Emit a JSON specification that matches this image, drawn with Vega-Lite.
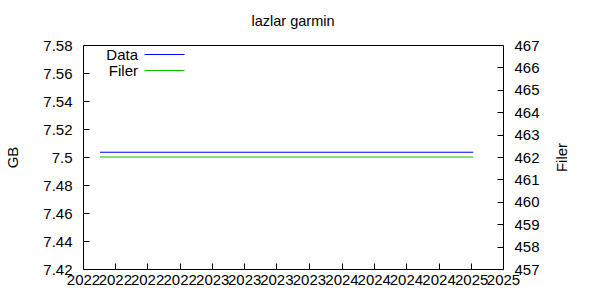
{
  "$schema": "https://vega.github.io/schema/vega-lite/v6.json",
  "width": 420,
  "height": 224,
  "autosize": {"type": "none"},
  "padding": {"left": 83, "top": 45, "right": 97, "bottom": 31},
  "title": {"text": "lazlar garmin", "fontSize": 14.5, "font": "Liberation Sans", "fontWeight": "normal", "color": "black", "offset": 9, "anchor": "middle"},
  "config": {
    "font": "Liberation Sans",
    "view": {"stroke": "black", "strokeWidth": 1, "fill": null},
    "axis": {"grid": false, "domain": false, "zindex": 1, "ticks": true, "tickColor": "#000000", "tickWidth": 1, "tickSize": -6, "labelFont": "Liberation Sans", "labelFontSize": 15, "labelColor": "black", "titleFont": "Liberation Sans", "titleFontSize": 15, "titleFontWeight": "normal", "titleColor": "black"}
  },
  "data": {"values": [
    {"date": "2022-02-18", "value": 7.5034, "series": "Data"},
    {"date": "2025-01-07", "value": 7.5034, "series": "Data"},
    {"date": "2022-02-18", "value": 462, "series": "Filer"},
    {"date": "2025-01-07", "value": 462, "series": "Filer"}
  ]},
  "encoding": {
    "x": {"field": "date", "type": "temporal", "title": null,
      "scale": {"domain": ["2022-01-01", "2025-04-01"], "nice": false},
      "axis": {"format": "%Y", "tickCount": {"interval": "month", "step": 3}, "labelPadding": 9, "labelFlush": false, "labelOverlap": false}
    },
    "color": {"field": "series", "type": "nominal",
      "scale": {"domain": ["Data", "Filer"], "range": ["#0000ff", "#00c800"]},
      "legend": {"title": null, "orient": "none", "legendX": 74, "legendY": 2, "symbolType": "M-5,0H5", "symbolSize": 64, "symbolStrokeWidth": 1, "symbolFillColor": "transparent", "labelAlign": "right", "labelOffset": -34, "labelFontSize": 15, "labelColor": "black", "labelFont": "Liberation Sans", "rowPadding": 0, "padding": 0}
    }
  },
  "layer": [
    {
      "transform": [{"filter": "datum.series == 'Data'"}],
      "mark": {"type": "line", "strokeWidth": 1},
      "encoding": {
        "y": {"field": "value", "type": "quantitative", "title": "GB",
          "scale": {"domain": [7.42, 7.58], "nice": false, "zero": false},
          "axis": {"values": [7.42, 7.44, 7.46, 7.48, 7.5, 7.52, 7.54, 7.56, 7.58], "format": "~g", "labelPadding": 17, "titleAngle": -90, "titlePadding": 22}
        }
      }
    },
    {
      "transform": [{"filter": "datum.series == 'Filer'"}],
      "mark": {"type": "line", "strokeWidth": 1},
      "encoding": {
        "y": {"field": "value", "type": "quantitative", "title": "Filer",
          "scale": {"domain": [457, 467], "nice": false, "zero": false},
          "axis": {"orient": "right", "values": [457, 458, 459, 460, 461, 462, 463, 464, 465, 466, 467], "labelPadding": 17, "titleAngle": -90, "titlePadding": 30}
        }
      }
    }
  ],
  "resolve": {"scale": {"y": "independent"}}
}
